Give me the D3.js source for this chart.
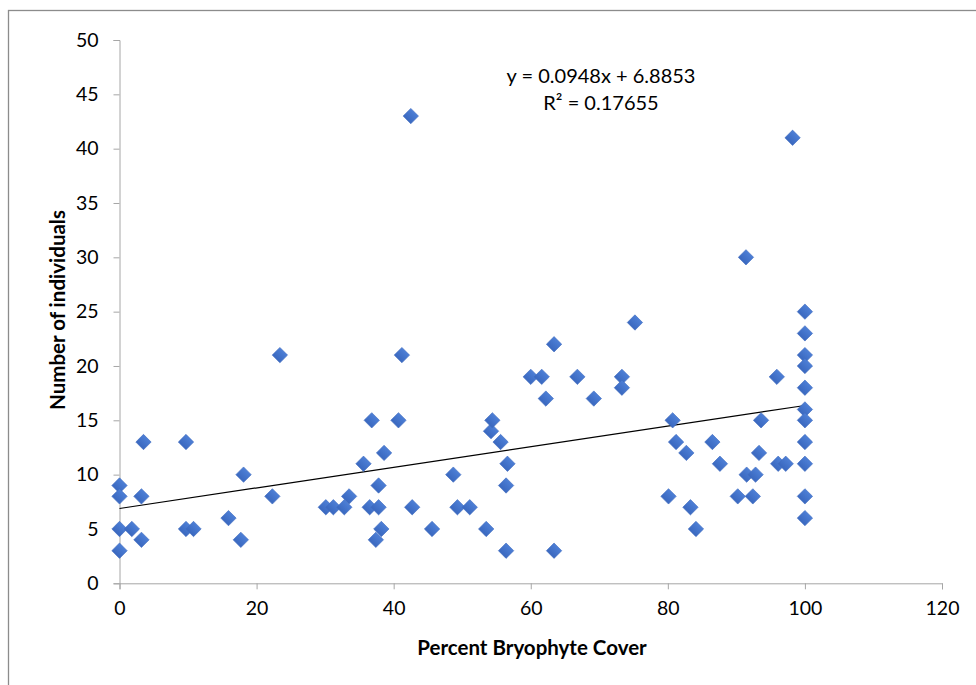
<!DOCTYPE html>
<html>
<head>
<meta charset="utf-8">
<script src="https://cdn.jsdelivr.net/npm/d3@7"></script>
<style>
  html, body { margin: 0; padding: 0; background: #fff; }
  svg { display: block; }
  text { font-family: Lato, "Open Sans", sans-serif; fill: #000; }
</style>
</head>
<body>
<svg id="chart" width="976" height="685"></svg>
<script>
// ---- data ----
const coverValues = [
  0, 0, 0, 0, 1.8, 3.2, 3.2, 3.5, 9.7, 9.7, 10.8, 15.9, 17.7, 18.1, 22.3, 23.4,
  30.1, 31.2, 32.8, 33.5, 35.6, 36.5, 36.8, 37.4, 37.8, 37.8, 38.2, 38.6, 40.7, 41.2,
  42.5, 42.7, 45.6, 48.7, 49.3, 51.1, 53.5, 54.2, 54.4, 55.6, 56.4, 56.4, 56.6,
  60.0, 61.6, 62.2, 63.4, 63.4, 66.8, 69.2, 73.3, 73.3, 75.2,
  80.1, 80.7, 81.2, 82.7, 83.3, 84.1, 86.5, 87.6, 90.2, 91.4, 91.5, 92.4, 92.8,
  93.3, 93.6, 95.9, 96.1, 97.2, 98.2,
  100, 100, 100, 100, 100, 100, 100, 100, 100, 100, 100
];
const individualValues = [
  9, 8, 5, 3, 5, 8, 4, 13, 13, 5, 5, 6, 4, 10, 8, 21,
  7, 7, 7, 8, 11, 7, 15, 4, 9, 7, 5, 12, 15, 21,
  43, 7, 5, 10, 7, 7, 5, 14, 15, 13, 9, 3, 11,
  19, 19, 17, 22, 3, 19, 17, 19, 18, 24,
  8, 15, 13, 12, 7, 5, 13, 11, 8, 30, 10, 8, 10,
  12, 15, 19, 11, 11, 41,
  25, 23, 21, 20, 18, 16, 15, 13, 11, 8, 6
];
const xTicks = [0, 20, 40, 60, 80, 100, 120];
const yTicks = [0, 5, 10, 15, 20, 25, 30, 35, 40, 45, 50];
const trendSlope = 0.0948;
const trendIntercept = 6.8853;
const equationText = "y = 0.0948x + 6.8853";
const r2Text = "R² = 0.17655";
const xTitle = "Percent Bryophyte Cover";
const yTitle = "Number of individuals";

// ---- layout ----
const svg = d3.select("#chart");
const x = d3.scaleLinear().domain([0, 120]).range([119.5, 942]);
const y = d3.scaleLinear().domain([0, 50]).range([583.3, 40]);
const axisColor = "#a6a6a6";

// outer chart border
svg.append("rect")
  .attr("x", 8.5).attr("y", 10.5)
  .attr("width", 1000).attr("height", 700)
  .attr("fill", "#fff").attr("stroke", "#8c8c8c").attr("stroke-width", 1.3);

// y axis
const yAxis = svg.append("g").attr("transform", `translate(${x(0)},0)`)
  .call(d3.axisLeft(y).tickValues(yTicks).tickSize(6).tickPadding(15).tickFormat(d3.format("d")));
yAxis.select(".domain").attr("stroke", axisColor);
yAxis.selectAll(".tick line").attr("stroke", axisColor);
yAxis.selectAll(".tick text")
  .attr("font-size", 19.5).attr("font-family", "Lato, sans-serif").attr("fill", "#000");

// x axis
const xAxis = svg.append("g").attr("transform", `translate(0,${y(0)})`)
  .call(d3.axisBottom(x).tickValues(xTicks).tickSize(6).tickPadding(12).tickFormat(d3.format("d")));
xAxis.select(".domain").attr("stroke", axisColor);
xAxis.selectAll(".tick line").attr("stroke", axisColor);
xAxis.selectAll(".tick text")
  .attr("font-size", 19.5).attr("font-family", "Lato, sans-serif").attr("fill", "#000");

// trendline (from min to max x)
const xMin = d3.min(coverValues), xMax = d3.max(coverValues);
svg.append("line")
  .attr("x1", x(xMin)).attr("y1", y(trendIntercept + trendSlope * xMin))
  .attr("x2", x(xMax)).attr("y2", y(trendIntercept + trendSlope * xMax))
  .attr("stroke", "#000").attr("stroke-width", 1.2);

// gradient for markers
const defs = svg.append("defs");
const grad = defs.append("linearGradient").attr("id", "mk")
  .attr("x1", "0").attr("y1", "0").attr("x2", "0").attr("y2", "1");
grad.append("stop").attr("offset", "0%").attr("stop-color", "#4d7fd6");
grad.append("stop").attr("offset", "100%").attr("stop-color", "#3a68bf");

const points = coverValues.map((v, i) => ({ cx: v, cy: individualValues[i] }));
const diamond = d3.symbol().type(d3.symbolSquare).size(118);
svg.append("g").selectAll("path").data(points).join("path")
  .attr("d", diamond)
  .attr("transform", d => `translate(${x(d.cx)},${y(d.cy)}) rotate(45)`)
  .attr("fill", "url(#mk)")
  .attr("stroke", "#3f6cbf").attr("stroke-width", 0.6);

// equation label
svg.append("text").attr("x", 601).attr("y", 83).attr("text-anchor", "middle")
  .attr("font-size", 20).text(equationText);
svg.append("text").attr("x", 601).attr("y", 110).attr("text-anchor", "middle")
  .attr("font-size", 20).text(r2Text);

// axis titles
svg.append("text").attr("x", 532).attr("y", 655).attr("text-anchor", "middle")
  .attr("font-size", 20.5).attr("font-weight", "bold").text(xTitle);
svg.append("text")
  .attr("transform", "translate(65,310) rotate(-90)")
  .attr("text-anchor", "middle")
  .attr("font-size", 20.5).attr("font-weight", "bold").text(yTitle);
</script>
</body>
</html>
